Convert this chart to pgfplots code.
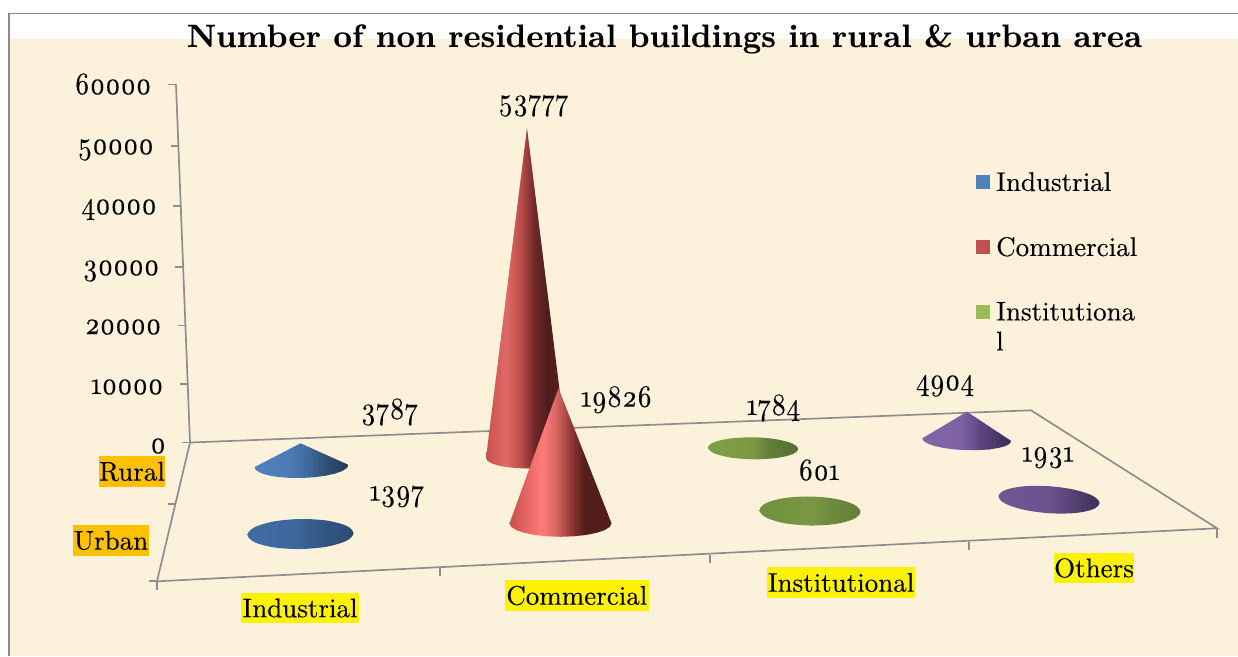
\documentclass[border=0pt]{standalone}
\usepackage{fontspec}
\setmainfont{Latin Modern Roman}[Numbers=OldStyle,OpticalSize=10,FakeBold=0.12]
\newfontfamily\numf{Latin Modern Roman}[Numbers=OldStyle,OpticalSize=10,FakeStretch=0.87,FakeBold=0.12]
\usepackage{pgfplots}
\pgfplotsset{compat=1.18}
\definecolor{parch}{HTML}{FCF2DC}
\definecolor{axl}{HTML}{8E8E8E}
\definecolor{bord}{HTML}{8A8A8A}
\newcommand{\hx}[1]{\definecolor{#1}{HTML}{#1}}
\hx{4F80BC}\hx{4C7CB6}\hx{3E6898}\hx{2F5075}\hx{213A57}
\hx{3F6CA3}\hx{3D689C}\hx{355B88}\hx{2B4A70}
\hx{C9504D}\hx{E06A67}\hx{B54A48}\hx{6B2725}\hx{4E1C1B}\hx{5C2120}
\hx{FF7B78}\hx{8A3331}\hx{521D1C}\hx{541E1D}
\hx{7F9E47}\hx{7C9A45}\hx{64803A}\hx{556C30}
\hx{70903F}\hx{7A9843}\hx{6E8A3D}\hx{657F38}
\hx{8064A8}\hx{7E62A4}\hx{5E4780}\hx{3B2A55}
\hx{71558F}\hx{6C5290}\hx{594378}\hx{403058}
\definecolor{legB}{HTML}{4F81BD}
\definecolor{legR}{HTML}{C0504D}
\definecolor{legG}{HTML}{9BBB59}
\pgfdeclarehorizontalshading{blueA}{100bp}{color(0bp)=(4F80BC);color(25bp)=(4F80BC);color(44bp)=(4C7CB6);color(54bp)=(3E6898);color(63bp)=(2F5075);color(75bp)=(213A57);color(100bp)=(213A57)}
\pgfdeclarehorizontalshading{blueB}{100bp}{color(0bp)=(3F6CA3);color(25bp)=(3F6CA3);color(48bp)=(3D689C);color(56bp)=(355B88);color(75bp)=(2B4A70);color(100bp)=(2B4A70)}
\pgfdeclarehorizontalshading{redA}{100bp}{color(0bp)=(C9504D);color(25bp)=(C9504D);color(37bp)=(E06A67);color(47bp)=(B54A48);color(55bp)=(6B2725);color(63bp)=(4E1C1B);color(75bp)=(5C2120);color(100bp)=(5C2120)}
\pgfdeclarehorizontalshading{redB}{100bp}{color(0bp)=(C9504D);color(25bp)=(C9504D);color(41bp)=(FF7B78);color(47bp)=(E06A67);color(56bp)=(8A3331);color(62bp)=(521D1C);color(75bp)=(541E1D);color(100bp)=(541E1D)}
\pgfdeclarehorizontalshading{greenA}{100bp}{color(0bp)=(7F9E47);color(25bp)=(7F9E47);color(50bp)=(7C9A45);color(58bp)=(64803A);color(75bp)=(556C30);color(100bp)=(556C30)}
\pgfdeclarehorizontalshading{greenB}{100bp}{color(0bp)=(70903F);color(25bp)=(70903F);color(50bp)=(7A9843);color(60bp)=(6E8A3D);color(75bp)=(657F38);color(100bp)=(657F38)}
\pgfdeclarehorizontalshading{purpA}{100bp}{color(0bp)=(8064A8);color(25bp)=(8064A8);color(47bp)=(7E62A4);color(57bp)=(5E4780);color(75bp)=(3B2A55);color(100bp)=(3B2A55)}
\pgfdeclarehorizontalshading{purpB}{100bp}{color(0bp)=(71558F);color(25bp)=(71558F);color(50bp)=(6C5290);color(60bp)=(594378);color(75bp)=(403058);color(100bp)=(403058)}
\newcommand{\bodyf}{\fontsize{27}{30}\selectfont}
\newcommand{\nf}{\numf\fontsize{31}{30}\selectfont}
\newcommand{\txt}[4][base]{\node[anchor=#1,inner sep=0pt,font=\nf,text=black] at (axis cs:#2,#3) {#4};}
\begin{document}
\begin{tikzpicture}
\begin{axis}[
  scale only axis, width=1238pt, height=656pt,
  xmin=0, xmax=1238, ymin=0, ymax=656, y dir=reverse,
  hide axis, clip=true,
  legend style={draw=none, fill=none, at={(axis cs:976,170)}, anchor=north west,
    row sep=40.5pt, inner sep=0pt, font=\bodyf},
  legend cell align=left,
]
% page and parchment
\addplot[fill=white, draw=none, forget plot] coordinates {(0,0)(1238,0)(1238,656)(0,656)} --cycle;
\addplot[fill=parch, draw=none, forget plot] coordinates {(10,39)(1238,39)(1238,656)(10,656)} --cycle;
\addplot[draw=bord, line width=1.5pt, forget plot] coordinates {(9,656)(9,13.5)(1238,13.5)};
% walls and floor
\addplot[draw=axl, line width=1.7pt, forget plot] coordinates {(176,84.5)(190,442.5)};
\addplot[draw=axl, line width=1.7pt, forget plot] coordinates {(190,442.5)(1031,410.3)(1217,528.3)(157,581.3)(190,442.5)};
\addplot[draw=axl, line width=1.7pt, forget plot] coordinates {(168,84.5)(176,84.5)};
\addplot[draw=axl, line width=1.7pt, forget plot] coordinates {(170.5,145.7)(178.5,145.7)};
\addplot[draw=axl, line width=1.7pt, forget plot] coordinates {(172.8,206.3)(180.8,206.3)};
\addplot[draw=axl, line width=1.7pt, forget plot] coordinates {(175,266.7)(183.5,266.7)};
\addplot[draw=axl, line width=1.7pt, forget plot] coordinates {(178,325.5)(186,325.5)};
\addplot[draw=axl, line width=1.7pt, forget plot] coordinates {(180,384.3)(188,384.3)};
\addplot[draw=axl, line width=1.7pt, forget plot] coordinates {(182,442.5)(190,442.5)};
\addplot[draw=axl, line width=1.7pt, forget plot] coordinates {(168.3,504)(176,504)};
\addplot[draw=axl, line width=1.7pt, forget plot] coordinates {(149.4,581.3)(157,581.3)};
\addplot[draw=axl, line width=1.7pt, forget plot] coordinates {(157,581.3)(157,590)};
\addplot[draw=axl, line width=1.7pt, forget plot] coordinates {(440,567.5)(440,575.7)};
\addplot[draw=axl, line width=1.7pt, forget plot] coordinates {(709.8,554.5)(709.8,562.7)};
\addplot[draw=axl, line width=1.7pt, forget plot] coordinates {(969,542)(969,550)};
\addplot[draw=axl, line width=1.7pt, forget plot] coordinates {(1217,528.5)(1217,537.7)};
% cones: rural row
\addplot[draw=none, shade, shading=blueA, area legend,
  legend image code/.code={\path[draw=none,shade=false,fill=legB] (0pt,-7pt) rectangle (14pt,7pt); \path[shade=false,fill=none] (18pt,0pt) -- (18pt,0.1pt);}]
 coordinates {(300.5,443.3)(348.5,464.9)(346.9,468)(342.2,471)(334.7,473.7)(325,475.8)(313.7,477.3)(301.5,478)(289.3,477.9)(278,477)(268.3,475.3)(260.8,473)(256.1,470.2)(254.5,467.1)} --cycle;
\addlegendentry{Industrial}
\addplot[draw=none, shade, shading=redA, area legend,
  legend image code/.code={\path[draw=none,shade=false,fill=legR] (0pt,-7pt) rectangle (14pt,7pt); \path[shade=false,fill=none] (18pt,0pt) -- (18pt,0.1pt);}]
 coordinates {(527,128)(568,458)(566.6,460.7)(562.5,463.3)(556,465.4)(547.5,467.1)(537.6,468.1)(527,468.5)(516.4,468.1)(506.5,467.1)(498,465.4)(491.5,463.3)(487.4,460.7)(486,458)} --cycle;
\addlegendentry{Commercial}
\addplot[draw=none, shade, shading=greenA, smooth cycle, tension=0.55, area legend,
  legend image code/.code={\path[draw=none,shade=false,fill=legG] (0pt,-7pt) rectangle (14pt,7pt); \path[shade=false,fill=none] (18pt,0pt) -- (18pt,0.1pt);}]
 coordinates {(798,449)(792,454.4)(775.5,458.1)(753,459.3)(730.5,457.5)(714,453.2)(708,447.6)(714,442.2)(730.5,438.5)(753,437.3)(775.5,439.1)(792,443.4)};
\addlegendentry{\parbox[t]{140pt}{Institutiona\\l}}
\addplot[draw=none, shade, shading=purpA, forget plot]
 coordinates {(967,411.7)(1011.2,441)(1009.7,443.7)(1005.2,446.2)(998.2,448)(989,449.5)(978.2,450.1)(966.7,450.2)(955.2,449.5)(944.4,448.1)(935.2,446.2)(928.2,443.8)(923.7,441.1)(922.2,438.4)} --cycle;
% cones: urban row
\addplot[draw=none, shade, shading=blueB, smooth cycle, tension=0.55, forget plot]
 coordinates {(353.5,533.2)(346.4,540.8)(327,546.6)(300.5,549)(274,547.4)(254.6,542.2)(247.5,534.8)(254.6,527.2)(274,521.4)(300.5,519)(327,520.6)(346.4,525.8)};
\addplot[draw=none, shade, shading=redB, forget plot]
 coordinates {(558.5,388.3)(611.5,523.3)(609.8,526.8)(604.7,530.1)(596.6,532.8)(586,535)(573.7,536.3)(560.5,536.8)(547.3,536.3)(535,535)(524.4,532.8)(516.3,530.1)(511.2,526.8)(509.5,523.3)} --cycle;
\addplot[draw=none, shade, shading=greenB, smooth cycle, tension=0.55, forget plot]
 coordinates {(860.5,511.8)(853.7,519)(835.3,524)(810,525.5)(784.7,523.2)(766.3,517.6)(759.5,510.2)(766.3,503)(784.7,498)(810,496.5)(835.3,498.8)(853.7,504.4)};
\addplot[draw=none, shade, shading=purpB, smooth cycle, tension=0.55, forget plot]
 coordinates {(1099.5,503)(1092.7,509.4)(1074.3,513.1)(1049,513.2)(1023.7,509.7)(1005.3,503.6)(998.5,496.4)(1005.3,490)(1023.7,486.3)(1049,486.2)(1074.3,489.7)(1092.7,495.8)};
% title
\node[anchor=base,inner sep=0pt,font=\fontsize{32.4}{36}\selectfont\bfseries] at (axis cs:664.5,47) {Number of non residential buildings in rural \& urban area};
% value axis
\txt[base east]{151.5}{94}{60000}
\txt[base east]{154}{154}{50000}
\txt[base east]{157}{214}{40000}
\txt[base east]{159.5}{275}{30000}
\txt[base east]{161.5}{334}{20000}
\txt[base east]{163.5}{394}{10000}
\txt[base east]{166}{453}{0}
% data labels
\txt{533.5}{110}{53777}
\txt{389.5}{419}{3787}
\txt{397}{500.7}{1397}
\txt{616.5}{406.7}{19826}
\txt{773.5}{415}{1784}
\txt{819}{480}{601}
\txt{945}{390}{4904}
\txt{1048}{461.7}{1931}
% category labels
\node[fill=yellow,inner sep=0pt,minimum width=118pt,minimum height=30pt,font=\bodyf] at (axis cs:300,608) {Industrial};
\node[fill=yellow,inner sep=0pt,minimum width=143.5pt,minimum height=31pt,font=\bodyf] at (axis cs:576.8,595.5) {Commercial};
\node[fill=yellow,inner sep=0pt,minimum width=148pt,minimum height=31pt,font=\bodyf] at (axis cs:841,582.5) {Institutional};
\node[fill=yellow,inner sep=0pt,minimum width=79pt,minimum height=30pt,font=\bodyf] at (axis cs:1094,568) {Others};
\definecolor{orng}{HTML}{FFC000}
\node[fill=orng,inner sep=0pt,minimum width=66pt,minimum height=31pt,font=\bodyf] at (axis cs:132,471.5) {Rural};
\node[fill=orng,inner sep=0pt,minimum width=76pt,minimum height=31pt,font=\bodyf] at (axis cs:111,540.5) {Urban};
\end{axis}
\end{tikzpicture}
\end{document}
